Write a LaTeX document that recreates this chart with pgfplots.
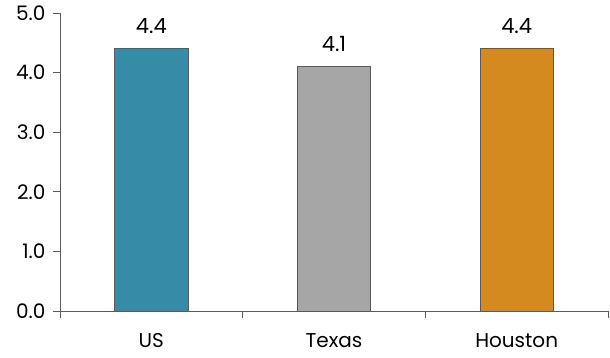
\documentclass[border=0pt]{standalone}
\usepackage{pgfplots}
\pgfplotsset{compat=1.18}
\usepackage{fontspec}
\setmainfont{Poppins}
\definecolor{cteal}{RGB}{54,140,166}
\definecolor{cgray}{RGB}{166,166,166}
\definecolor{corange}{RGB}{212,138,31}
\definecolor{axc}{RGB}{90,90,90}
\begin{document}
\begin{tikzpicture}
\begin{axis}[
  scale only axis,
  width=548pt, height=298pt,
  xmin=-0.5, xmax=2.5,
  ymin=0, ymax=5,
  axis x line=bottom, axis y line=left,
  axis line style={axc, line width=0.8pt, -},
  xtick={0,1,2},
  xticklabels={US,Texas,Houston},
  major x tick style={draw=none},
  minor xtick={-0.5,0.5,1.5,2.5},
  minor tick length=7pt,
  minor x tick style={axc, line width=0.8pt},
  ytick={0,1,2,3,4,5},
  major tick length=7pt,
  y tick style={axc, line width=0.8pt},
  tick align=outside,
  yticklabel style={/pgf/number format/fixed, /pgf/number format/fixed zerofill, /pgf/number format/precision=1, xshift=-4pt, font=\fontsize{20}{22}\selectfont},
  /pgf/number format/assume math mode=true,
  tick label style={black},
  xticklabel style={yshift=-12pt, font=\fontsize{20}{22}\selectfont},
  nodes near coords,
  every node near coord/.append style={font=\fontsize{21}{23}\selectfont, black, yshift=11pt,
    /pgf/number format/fixed, /pgf/number format/fixed zerofill, /pgf/number format/precision=1},
  bar width=0.4,
  clip=false,
]
\addplot[ybar, fill=cteal, draw=axc, line width=0.6pt] coordinates {(0,4.4)};
\addplot[ybar, fill=cgray, draw=axc, line width=0.6pt] coordinates {(1,4.1)};
\addplot[ybar, fill=corange, draw=axc, line width=0.6pt] coordinates {(2,4.4)};
\end{axis}
\path[use as bounding box] (current axis.south west) ++(-60pt,-47pt) rectangle ++(610pt,358pt);
\end{tikzpicture}
\end{document}
